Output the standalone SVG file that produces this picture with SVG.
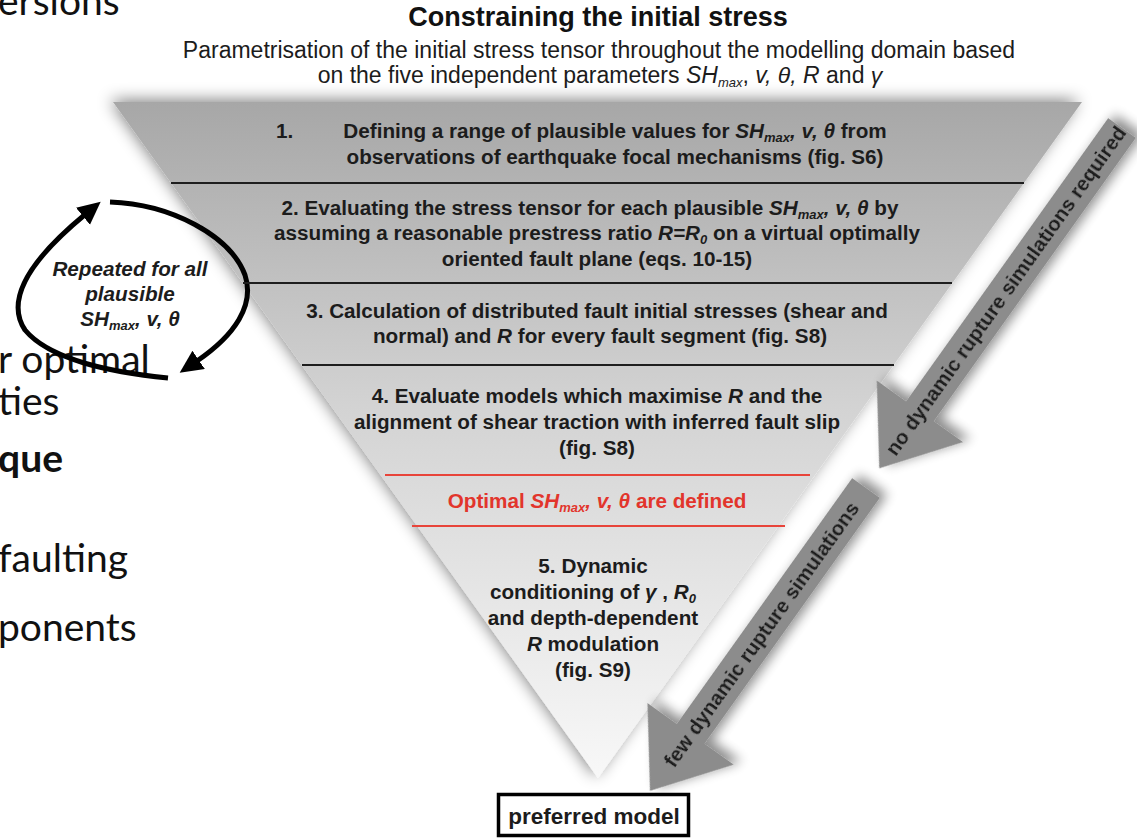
<svg xmlns="http://www.w3.org/2000/svg" width="1137" height="839" viewBox="0 0 1137 839">
<defs>
<style>
.bg{font-family:Lato,"Noto Sans",sans-serif;font-size:39px;fill:#111}
.t{font-family:"Liberation Sans",Arial,Helvetica,sans-serif;font-weight:bold;font-size:20.7px;fill:#1c1c1c;text-anchor:middle}
.ti{font-family:"Liberation Sans",Arial,Helvetica,sans-serif;font-weight:normal;font-size:23px;fill:#1c1c1c;text-anchor:middle}
.h{font-family:"Liberation Sans",Arial,Helvetica,sans-serif;font-weight:bold;font-size:27px;fill:#111;text-anchor:middle}
.i{font-style:italic}
.sub{font-style:italic;font-size:13px}
.red{fill:#e2352c}
.sep{stroke:#1e1e1e;stroke-width:2}
.rsep{stroke:#e8443a;stroke-width:2}
.arr{fill:#8c8c8c}
.at{font-family:"Liberation Sans",Arial,Helvetica,sans-serif;font-weight:bold;font-size:20.5px;fill:#1a1a1a;text-anchor:middle}
.loop{fill:none;stroke:#000;stroke-width:5}
</style>
<linearGradient id="tri" x1="0" y1="102" x2="0" y2="778" gradientUnits="userSpaceOnUse">
<stop offset="0" stop-color="#a7a7a7"/>
<stop offset="0.45" stop-color="#d3d3d3"/>
<stop offset="1" stop-color="#f8f8f8"/>
</linearGradient>
<filter id="shTri" x="-10%" y="-10%" width="120%" height="120%">
<feGaussianBlur in="SourceAlpha" stdDeviation="8"/>
<feOffset dx="-3" dy="-2" result="b"/>
<feComponentTransfer><feFuncA type="linear" slope="0.5"/></feComponentTransfer>
<feMerge><feMergeNode/><feMergeNode in="SourceGraphic"/></feMerge>
</filter>
<filter id="shArr" x="-20%" y="-20%" width="140%" height="140%">
<feGaussianBlur in="SourceAlpha" stdDeviation="6"/>
<feOffset dx="-7" dy="-4" result="b"/>
<feComponentTransfer><feFuncA type="linear" slope="0.45"/></feComponentTransfer>
<feMerge><feMergeNode/><feMergeNode in="SourceGraphic"/></feMerge>
</filter>
<marker id="head" markerUnits="userSpaceOnUse" markerWidth="24" markerHeight="24" refX="2" refY="11" orient="auto">
<path d="M0,0 L23,11 L0,22 Z" fill="#000"/>
</marker>
</defs>
<rect width="1137" height="839" fill="#fff"/>

<g id="slide-text">
<text class="bg" x="-2" y="15">ersions</text>
<text class="bg" x="-2" y="373">r optimal</text>
<text class="bg" x="-2" y="415">ties</text>
<text class="bg" x="-2" y="472" font-weight="bold">que</text>
<text class="bg" x="-2" y="572">faulting</text>
<text class="bg" x="-2" y="641">ponents</text>
</g>

<g id="title">
<text class="h" x="598" y="26">Constraining the initial stress</text>
<text class="ti" x="599" y="58">Parametrisation of the initial stress tensor throughout the modelling domain based</text>
<text class="ti" x="600" y="83">on the five independent parameters <tspan class="i">SH</tspan><tspan class="sub" font-size="15px" dy="4">max</tspan><tspan dy="-4">, </tspan><tspan class="i">v, θ, R</tspan> and <tspan class="i">γ</tspan></text>
</g>

<g id="funnel">
<polygon points="113,102 1082,102 598,778" fill="url(#tri)" filter="url(#shTri)"/>
</g>

<g id="connectors">
<g id="arrow-no-sim" transform="translate(1122,128) rotate(125.5)" filter="url(#shArr)">
<path class="arr" d="M0,-17 L348,-17 L348,-53 L418,0 L348,53 L348,17 L0,17 Z"/>
<text class="at" transform="translate(200,0) rotate(180)" y="7">no dynamic rupture simulations required</text>
</g>
<g id="arrow-few-sim" transform="translate(866,488) rotate(125.5)" filter="url(#shArr)">
<path class="arr" d="M0,-17 L302,-17 L302,-53 L372,0 L302,53 L302,17 L0,17 Z"/>
<text class="at" transform="translate(180,0) rotate(180)" y="7">few dynamic rupture simulations</text>
</g>
<path class="loop" d="M110,202 C170,204 230,235 245,275 C255,305 235,335 197,361" marker-end="url(#head)"/>
<path class="loop" d="M168,378 C110,372 50,360 25,330 C5,300 30,260 84.5,215" marker-end="url(#head)"/>
</g>

<g id="separators">
<line class="sep" x1="171" y1="183" x2="1024" y2="183"/>
<line class="sep" x1="243" y1="283" x2="952" y2="283"/>
<line class="sep" x1="302" y1="365" x2="894" y2="365"/>
<line class="rsep" x1="385" y1="475" x2="810" y2="475"/>
<line class="rsep" x1="412" y1="526" x2="785" y2="526"/>
</g>

<g id="step1">
<text class="t" x="276" y="138" style="text-anchor:start">1.</text>
<text class="t" x="615" y="138">Defining a range of plausible values for <tspan class="i">SH</tspan><tspan class="sub" dy="4">max</tspan><tspan class="i" dy="-4">, v, θ</tspan> from</text>
<text class="t" x="615" y="164">observations of earthquake focal mechanisms (fig. S6)</text>
</g>

<g id="step2">
<text class="t" x="590" y="215">2. Evaluating the stress tensor for each plausible <tspan class="i">SH</tspan><tspan class="sub" dy="4">max</tspan><tspan class="i" dy="-4">, v, θ</tspan> by</text>
<text class="t" x="597" y="240">assuming a reasonable prestress ratio <tspan class="i">R=R</tspan><tspan class="sub" dy="4">0</tspan><tspan dy="-4"> on a virtual optimally</tspan></text>
<text class="t" x="597" y="266">oriented fault plane (eqs. 10-15)</text>
</g>

<g id="step3">
<text class="t" x="597" y="318">3. Calculation of distributed fault initial stresses (shear and</text>
<text class="t" x="600" y="343">normal) and <tspan class="i">R</tspan> for every fault segment (fig. S8)</text>
</g>

<g id="step4">
<text class="t" x="597" y="403">4. Evaluate models which maximise <tspan class="i">R</tspan> and the</text>
<text class="t" x="597" y="429">alignment of shear traction with inferred fault slip</text>
<text class="t" x="597" y="455">(fig. S8)</text>
</g>

<g id="optimal">
<text class="t red" x="597" y="508">Optimal <tspan class="i">SH</tspan><tspan class="sub" dy="4">max</tspan><tspan class="i" dy="-4">, v, θ</tspan> are defined</text>
</g>

<g id="step5">
<text class="t" x="593" y="573">5.<tspan dx="6">Dynamic</tspan></text>
<text class="t" x="593" y="599">conditioning of <tspan class="i">γ</tspan> , <tspan class="i">R</tspan><tspan class="sub" dy="4">0</tspan></text>
<text class="t" x="593" y="625">and depth-dependent</text>
<text class="t" x="593" y="651"><tspan class="i">R</tspan> modulation</text>
<text class="t" x="593" y="677">(fig. S9)</text>
</g>

<g id="loop-label">
<text class="t i" x="130" y="276">Repeated for all</text>
<text class="t i" x="130" y="301">plausible</text>
<text class="t i" x="130" y="326">SH<tspan class="sub" dy="4">max</tspan><tspan dy="-4">, v, θ</tspan></text>
</g>

<g id="preferred">
<rect x="498.5" y="794.5" width="190" height="41" fill="#fff" stroke="#000" stroke-width="3.5"/>
<text class="t" x="594" y="824" style="font-size:22.5px">preferred model</text>
</g>
</svg>
